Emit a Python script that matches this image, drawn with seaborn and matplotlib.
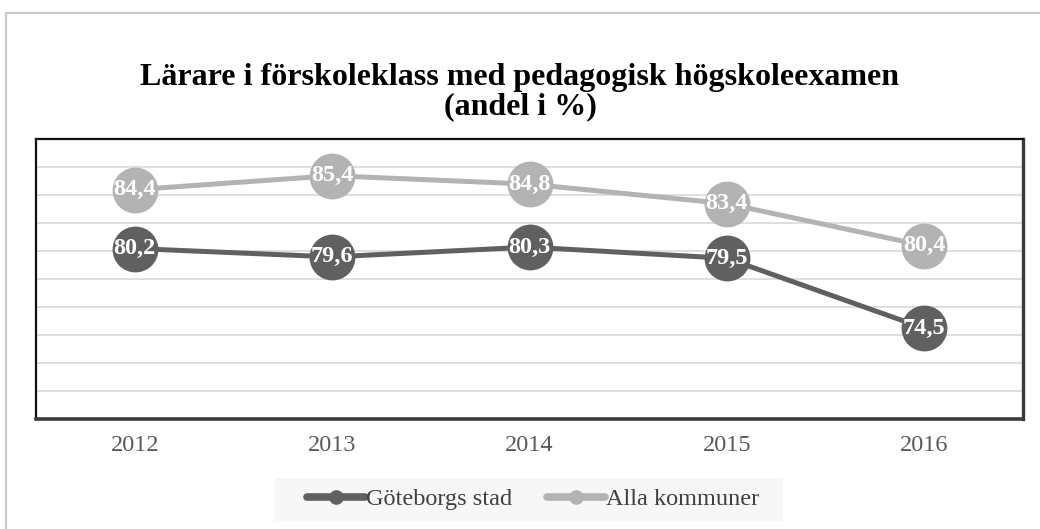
import pandas as pd
import numpy as np
import seaborn as sns
import matplotlib.pyplot as plt
from matplotlib.patches import Rectangle

years = [2012, 2013, 2014, 2015, 2016]
goteborg = [80.2, 79.6, 80.3, 79.5, 74.5]
alla = [84.4, 85.4, 84.8, 83.4, 80.4]
series_names = ["Göteborgs stad", "Alla kommuner"]
colors = ["#606060", "#b3b3b3"]

sns.set_theme(style="white")
plt.rcParams['font.family'] = ['Liberation Serif', 'DejaVu Serif']

df = pd.DataFrame({
    "year": years * 2,
    "value": goteborg + alla,
    "serie": [series_names[0]] * 5 + [series_names[1]] * 5,
})

fig = plt.figure(figsize=(10.4, 5.29), dpi=100)
ax = fig.add_axes([36/1040, 1 - 419.3/529, 987/1040, 280/529])

sns.lineplot(data=df, x="year", y="value", hue="serie", palette=colors,
             linewidth=3.6, marker="o", markersize=33, markeredgewidth=0,
             ax=ax, legend=False, zorder=3)

# data labels
for vals in [goteborg, alla]:
    for x, v in zip(years, vals):
        ax.text(x, v, f"{v:.1f}".replace(".", ","), ha="center", va="center",
                color="white", fontsize=17.5, fontweight="bold", zorder=5)

ax.set_xlim(2011.5, 2016.5)
ax.set_ylim(68, 88)
ax.set_yticks(np.arange(70, 88, 2))
ax.yaxis.grid(True, color="#d9d9d9", linewidth=1.2)
ax.set_axisbelow(True)
ax.set_yticklabels([])
ax.tick_params(axis="y", length=0)
ax.set_xticks(years)
ax.set_xticklabels([str(y) for y in years], fontsize=17.5, color="#595959")
ax.tick_params(axis="x", length=0, pad=11)
ax.set_xlabel("")
ax.set_ylabel("")
for s in ax.spines.values():
    s.set_color("#111111")
    s.set_linewidth(1.6)
ax.spines["bottom"].set_color("#3a3a3a")
ax.spines["bottom"].set_linewidth(2.6)
ax.spines["right"].set_color("#3a3a3a")
ax.spines["right"].set_linewidth(2.4)

# legend background box
fig.patches.append(Rectangle((275/1040, 1 - 521/529), 508/1040, 43/529,
                             transform=fig.transFigure, facecolor="#f7f7f7",
                             edgecolor="none", zorder=0))
handles = [plt.Line2D([], [], color=c, linewidth=5.5, marker="o", markersize=9.5)
           for c in colors]
leg = fig.legend(handles, series_names, loc="center", bbox_to_anchor=(533/1040, 1 - 499/529),
                 ncol=2, frameon=False, fontsize=17.5, handlelength=2.4,
                 handletextpad=0.05, columnspacing=1.4)
for t in leg.get_texts():
    t.set_color("#404040")

fig.text(0.5, 1 - 77/529, "Lärare i förskoleklass med pedagogisk högskoleexamen",
         ha="center", va="center", fontsize=23, fontweight="bold", color="#000000")
fig.text(0.5, 1 - 107/529, "(andel i %)",
         ha="center", va="center", fontsize=23, fontweight="bold", color="#000000")

# outer chart border
fig.patches.append(Rectangle((6/1040, -0.05), 1.1, 1 - 13/529 + 0.05, transform=fig.transFigure,
                             fill=False, edgecolor="#cccccc", linewidth=1.6, zorder=0))

fig.savefig("out.png", dpi=100)
